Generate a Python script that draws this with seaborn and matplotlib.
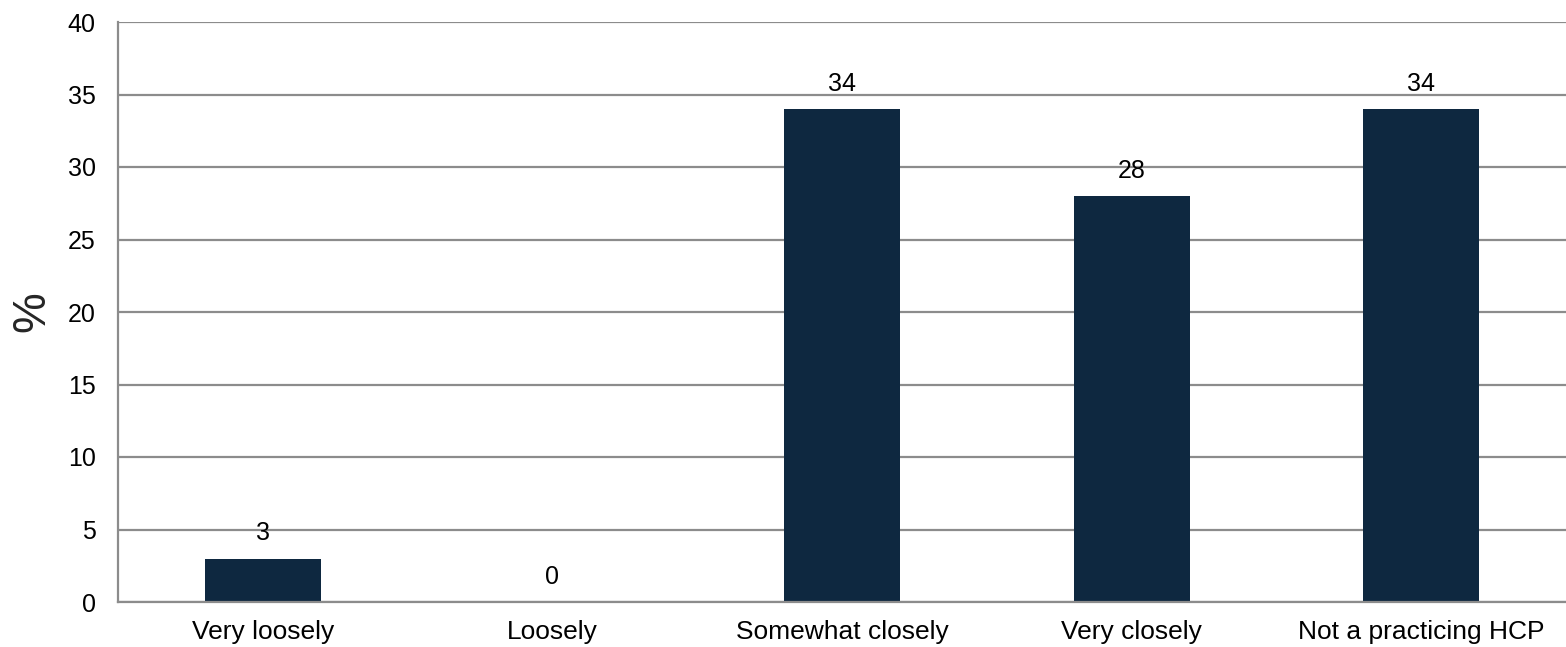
import matplotlib
matplotlib.use("Agg")
import matplotlib.pyplot as plt
import seaborn as sns
import pandas as pd

categories = ["Very loosely", "Loosely", "Somewhat closely", "Very closely", "Not a practicing HCP"]
values = [3, 0, 34, 28, 34]
y_ticks = [0, 5, 10, 15, 20, 25, 30, 35, 40]

sns.set_theme(style="white")
plt.rcParams['font.family'] = ['Liberation Sans', 'DejaVu Sans']

df = pd.DataFrame({"cat": categories, "val": values})

fig = plt.figure(figsize=(15.66, 6.47), dpi=100)
ax = fig.add_axes([118/1566, 1 - 602/647, (1566-118)/1566, (602-22)/647])

sns.barplot(data=df, x="cat", y="val", color="#0E2840", width=0.4, ax=ax,
            saturation=1, linewidth=0)

ax.set_ylim(0, 40)
ax.set_xlim(-0.5, len(categories) - 0.5)
ax.set_yticks(y_ticks)
ax.yaxis.grid(True, color="#8c8c8c", linewidth=1.6)
ax.set_axisbelow(True)
for s in ["top", "right"]:
    ax.spines[s].set_visible(False)
for s in ["left", "bottom"]:
    ax.spines[s].set_color("#8c8c8c")
    ax.spines[s].set_linewidth(1.6)
ax.tick_params(axis="both", length=0, colors="black")
ax.tick_params(axis="y", pad=16, labelsize=18)
ax.tick_params(axis="x", pad=13, labelsize=19)
ax.set_xlabel("")
ax.set_ylabel("%", fontsize=33, labelpad=10)

for i, v in enumerate(values):
    ax.annotate(str(v), (i, v), xytext=(0, 13), textcoords="offset points",
                ha="center", va="baseline", fontsize=18, color="black")

fig.savefig("out.png", dpi=100)
